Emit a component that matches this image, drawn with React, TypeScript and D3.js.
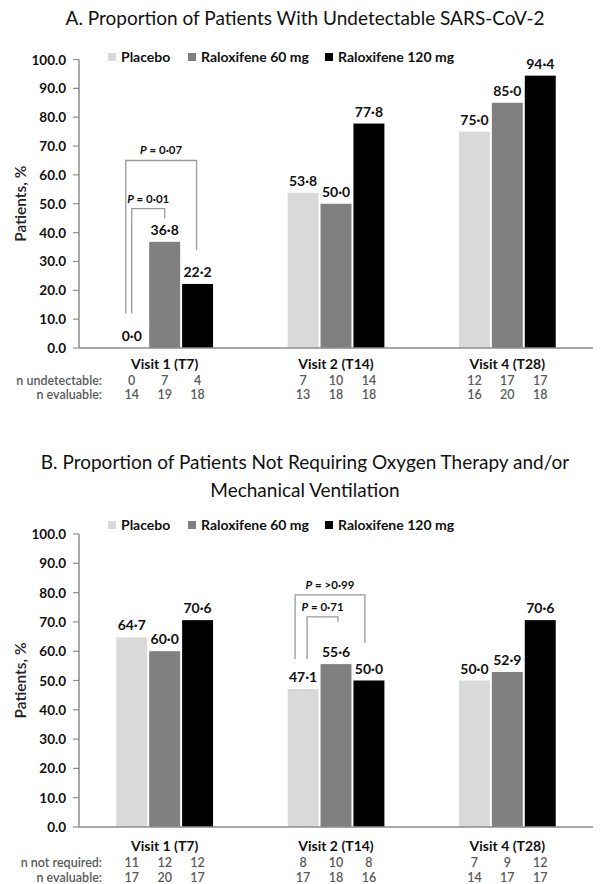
import React from 'react';
import * as d3 from 'd3';

const visits = ['Visit 1 (T7)', 'Visit 2 (T14)', 'Visit 4 (T28)'];
const seriesNames = ['Placebo', 'Raloxifene 60 mg', 'Raloxifene 120 mg'];
const seriesColors = ['#d9d9d9', '#808080', '#000000'];
const yTicks = [0, 10, 20, 30, 40, 50, 60, 70, 80, 90, 100];

// panel A - undetectable SARS-CoV-2
const undetectablePct = [
  [0.0, 36.8, 22.2],
  [53.8, 50.0, 77.8],
  [75.0, 85.0, 94.4],
];
const nUndetectable = [
  [0, 7, 4],
  [7, 10, 14],
  [12, 17, 17],
];
const nEvaluableA = [
  [14, 19, 18],
  [13, 18, 18],
  [16, 20, 18],
];

// panel B - no oxygen / ventilation
const noOxygenPct = [
  [64.7, 60.0, 70.6],
  [47.1, 55.6, 50.0],
  [50.0, 52.9, 70.6],
];
const nNotRequired = [
  [11, 12, 12],
  [8, 10, 8],
  [7, 9, 12],
];
const nEvaluableB = [
  [17, 20, 17],
  [17, 18, 16],
  [14, 17, 17],
];

// p-value brackets: visit, series from/to, top + leg ends in % units
const bracketsA = [
  { visit: 0, from: 0, to: 2, top: 65, fromEnd: 12, toEnd: 34, label: '0·07', dxFrom: -6, dxTo: -1 },
  { visit: 0, from: 0, to: 1, top: 48.3, fromEnd: 12, toEnd: 45, label: '0·01', dxFrom: 0, dxTo: 0 },
];
const bracketsB = [
  { visit: 1, from: 0, to: 2, top: 79.2, fromEnd: 57.3, toEnd: 62.8, label: '>0·99', dxFrom: -8, dxTo: -4 },
  { visit: 1, from: 0, to: 1, top: 71.7, fromEnd: 57.3, toEnd: 70, label: '0·71', dxFrom: 4, dxTo: 2 },
];

const FONT = 'Lato, "Open Sans", sans-serif';
const dot = (v: number) => d3.format('.1f')(v).replace('.', '·');

type Bracket = typeof bracketsA[number];

function Panel(props: {
  titleLines: string[];
  titleY: number;
  legendY: number;
  y100: number;
  y0: number;
  values: number[][];
  nRow1Label: string;
  nRow1: number[][];
  nRow2: number[][];
  brackets: Bracket[];
  visitY: number;
  row1Y: number;
  row2Y: number;
}) {
  const { titleLines, titleY, legendY, y100, y0, values, brackets } = props;
  const xLeft = 79;
  const xRight = 593;

  const x0 = d3.scaleBand<string>().domain(visits).range([xLeft, xRight]).paddingInner(0.435).paddingOuter(0.2175);
  const x1 = d3.scaleBand<string>().domain(seriesNames).range([0, x0.bandwidth()]).paddingInner(0.06).paddingOuter(0);
  const y = d3.scaleLinear().domain([0, 100]).range([y0, y100]);

  const cx = (v: number, s: number) => (x0(visits[v]) ?? 0) + (x1(seriesNames[s]) ?? 0) + x1.bandwidth() / 2;

  const legendX = [108, 188, 325];

  return (
    <g>
      {titleLines.map((t, i) => (
        <text key={i} x={305} y={titleY + i * 28} textAnchor="middle" fontSize={19} fill="#111">
          {t}
        </text>
      ))}

      {/* legend */}
      {seriesNames.map((s, i) => (
        <g key={s} transform={`translate(${legendX[i]},${legendY})`}>
          <rect x={0} y={-4} width={8} height={8} fill={seriesColors[i]} />
          <text x={13} y={5} fontSize={14} fontWeight={700} fill="#111">
            {s}
          </text>
        </g>
      ))}

      {/* y axis */}
      <line x1={xLeft} x2={xLeft} y1={y100} y2={y0} stroke="#8c8c8c" strokeWidth={1.5} />
      {yTicks.map((t) => (
        <g key={t}>
          <line x1={xLeft - 6} x2={xLeft} y1={y(t)} y2={y(t)} stroke="#8c8c8c" strokeWidth={1.2} />
          <text x={66} y={y(t) + 5} textAnchor="end" fontSize={13.5} fontWeight={700} fill="#111">
            {d3.format('.1f')(t)}
          </text>
        </g>
      ))}
      <text
        transform={`translate(26,${(y0 + y100) / 2}) rotate(-90)`}
        textAnchor="middle"
        fontSize={15.5}
        fontWeight={600}
        fill="#222"
      >
        Patients, %
      </text>

      {/* bars */}
      {values.map((row, v) =>
        row.map((val, s) => (
          <g key={`${v}-${s}`}>
            <rect
              x={(x0(visits[v]) ?? 0) + (x1(seriesNames[s]) ?? 0)}
              y={y(val)}
              width={x1.bandwidth()}
              height={y0 - y(val)}
              fill={seriesColors[s]}
            />
            <text x={cx(v, s)} y={y(val) - 7} textAnchor="middle" fontSize={14} fontWeight={700} fill="#111">
              {dot(val)}
            </text>
          </g>
        )),
      )}

      {/* x axis */}
      <line x1={xLeft} x2={xRight} y1={y0} y2={y0} stroke="#8c8c8c" strokeWidth={1.5} />

      {/* brackets */}
      {brackets.map((b, i) => {
        const xa = cx(b.visit, b.from) + b.dxFrom;
        const xb = cx(b.visit, b.to) + b.dxTo;
        const yt = y(b.top);
        return (
          <g key={i}>
            <path
              d={`M${xa},${y(b.fromEnd)}V${yt}H${xb}V${y(b.toEnd)}`}
              fill="none"
              stroke="#9a9a9a"
              strokeWidth={1.3}
            />
            <text x={(xa + xb) / 2} y={yt - 6} textAnchor="middle" fontSize={11.5} fontWeight={700} fill="#111">
              <tspan fontStyle="italic">P</tspan>
              {` = ${b.label}`}
            </text>
          </g>
        );
      })}

      {/* visit labels + n rows */}
      {visits.map((v) => (
        <text
          key={v}
          x={(x0(v) ?? 0) + x0.bandwidth() / 2}
          y={props.visitY}
          textAnchor="middle"
          fontSize={14}
          fontWeight={700}
          fill="#111"
        >
          {v}
        </text>
      ))}
      <text x={102} y={props.row1Y} textAnchor="end" fontSize={12.5} fontWeight={600} fill="#595959">
        {props.nRow1Label}
      </text>
      <text x={102} y={props.row2Y} textAnchor="end" fontSize={12.5} fontWeight={600} fill="#595959">
        n evaluable:
      </text>
      {visits.map((_, v) =>
        seriesNames.map((__, s) => (
          <g key={`n${v}-${s}`}>
            <text x={cx(v, s)} y={props.row1Y} textAnchor="middle" fontSize={12.5} fontWeight={600} fill="#595959">
              {props.nRow1[v][s]}
            </text>
            <text x={cx(v, s)} y={props.row2Y} textAnchor="middle" fontSize={12.5} fontWeight={600} fill="#595959">
              {props.nRow2[v][s]}
            </text>
          </g>
        )),
      )}
    </g>
  );
}

export default function App() {
  return (
    <svg
      width={600}
      height={884}
      style={{ position: 'absolute', left: 0, top: 0, background: '#fff' }}
      fontFamily={FONT}
    >
      <rect width={600} height={884} fill="#fff" />
      <Panel
        titleLines={['A. Proportion of Patients With Undetectable SARS-CoV-2']}
        titleY={25}
        legendY={57}
        y100={59.5}
        y0={348}
        values={undetectablePct}
        nRow1Label="n undetectable:"
        nRow1={nUndetectable}
        nRow2={nEvaluableA}
        brackets={bracketsA}
        visitY={369}
        row1Y={385}
        row2Y={399}
      />
      <Panel
        titleLines={['B. Proportion of Patients Not Requiring Oxygen Therapy and/or', 'Mechanical Ventilation']}
        titleY={469}
        legendY={525}
        y100={534}
        y0={827}
        values={noOxygenPct}
        nRow1Label="n not required:"
        nRow1={nNotRequired}
        nRow2={nEvaluableB}
        brackets={bracketsB}
        visitY={851}
        row1Y={867}
        row2Y={882}
      />
    </svg>
  );
}
